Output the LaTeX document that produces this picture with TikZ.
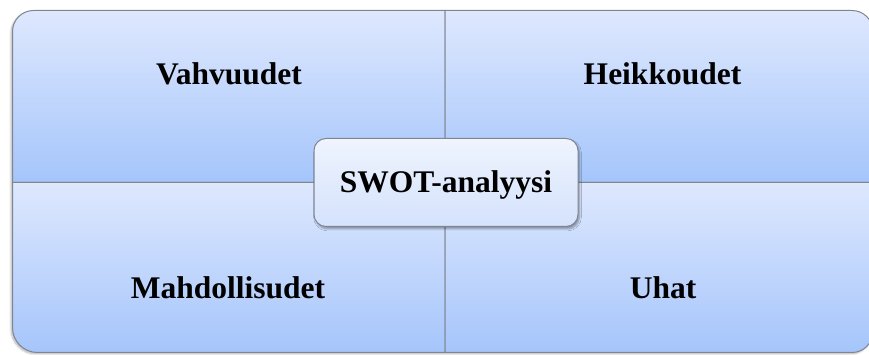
\documentclass[tikz,border=0pt]{standalone}
\usepackage{fontspec}
\setmainfont{Liberation Serif}
\usetikzlibrary{shadows.blur}

\definecolor{quadtop}{RGB}{222,232,254}
\definecolor{quadbot}{RGB}{165,197,251}
\definecolor{coretop}{RGB}{239,244,254}
\definecolor{corebot}{RGB}{212,226,252}
\definecolor{edge}{RGB}{128,134,145}

\tikzset{
  quad/.style={top color=quadtop, bottom color=quadbot, draw=edge, line width=1pt},
  label/.style={font=\bfseries\fontsize{31.5}{36}\selectfont, anchor=base, inner sep=0pt},
  corebox/.style={rectangle, rounded corners=12pt, minimum width=264pt, minimum height=88pt,
    top color=coretop, bottom color=corebot, draw=edge, line width=1pt,
    font=\bfseries\fontsize{31.5}{36}\selectfont, text height=21pt, text depth=0pt,
    blur shadow={shadow xshift=1.5pt, shadow yshift=-2.5pt, shadow blur steps=6, shadow opacity=35}},
}

\begin{document}
\begin{tikzpicture}[x=1pt, y=1pt]
  \useasboundingbox (0,0) rectangle (869,355);

  % soft shadow under the whole matrix
  \path[fill=black, opacity=0.0,
        blur shadow={shadow xshift=-1.5pt, shadow yshift=-1.5pt, shadow blur steps=6, shadow opacity=30}]
    (12.5,27.5) -- (12.5,323.5) arc[start angle=180, end angle=90, radius=21]
    -- (852,344.5) arc[start angle=90, end angle=0, radius=21]
    -- (873,23.5) arc[start angle=0, end angle=-90, radius=21]
    -- (37.5,2.5) arc[start angle=270, end angle=180, radius=25] -- cycle;

  % the four quadrants
  \path[quad] (12.5,172.5) -- (12.5,323.5) arc[start angle=180, end angle=90, radius=21]
    -- (445,344.5) -- (445,172.5) -- cycle;
  \path[quad] (445,172.5) -- (445,344.5) -- (852,344.5)
    arc[start angle=90, end angle=0, radius=21] -- (873,172.5) -- cycle;
  \path[quad] (12.5,172.5) -- (445,172.5) -- (445,2.5) -- (37.5,2.5)
    arc[start angle=270, end angle=180, radius=25] -- cycle;
  \path[quad] (445,172.5) -- (873,172.5) -- (873,23.5)
    arc[start angle=0, end angle=-90, radius=21] -- (445,2.5) -- cycle;

  % quadrant labels
  \node[label] (strengths)     at (229,270.7) {Vahvuudet};
  \node[label] (weaknesses)    at (662.5,270.7) {Heikkoudet};
  \node[label] (opportunities) at (228,56) {Mahdollisudet};
  \node[label] (threats)       at (663,56) {Uhat};

  % central box
  \node[corebox] (core) at (446,172.5) {SWOT-analyysi};
\end{tikzpicture}
\end{document}
